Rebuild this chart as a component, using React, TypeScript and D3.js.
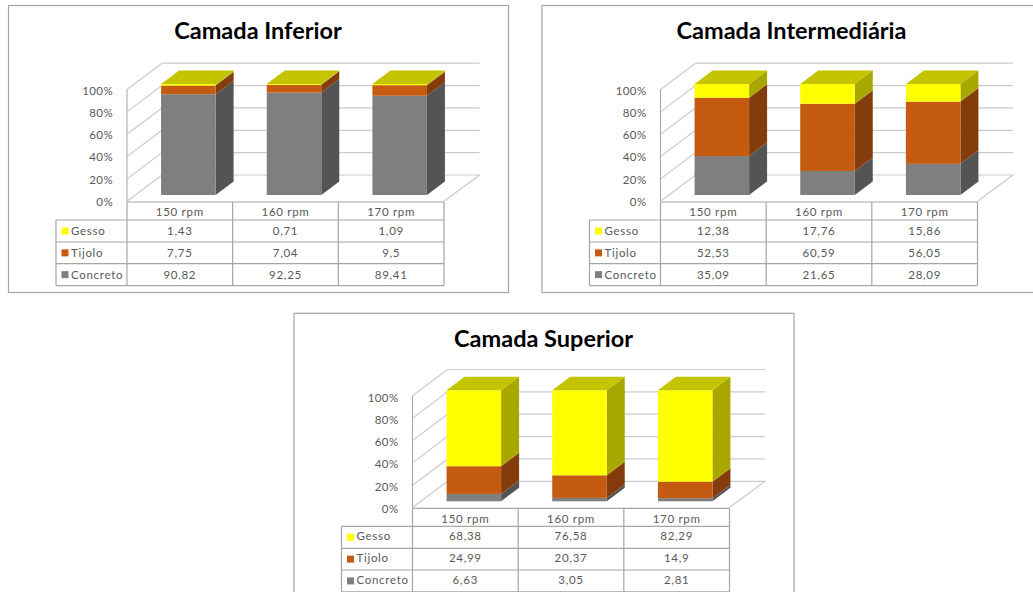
import React from "react";
import * as d3 from "d3";

// Stacked 3D column charts with an attached data table, one per layer.
const categories = ["150 rpm", "160 rpm", "170 rpm"];
const seriesNames = ["Concreto", "Tijolo", "Gesso"];
const percentTicks = [0, 20, 40, 60, 80, 100];

const inferiorConcreto = [90.82, 92.25, 89.41];
const inferiorTijolo = [7.75, 7.04, 9.5];
const inferiorGesso = [1.43, 0.71, 1.09];

const intermediariaConcreto = [35.09, 21.65, 28.09];
const intermediariaTijolo = [52.53, 60.59, 56.05];
const intermediariaGesso = [12.38, 17.76, 15.86];

const superiorConcreto = [6.63, 3.05, 2.81];
const superiorTijolo = [24.99, 20.37, 14.9];
const superiorGesso = [68.38, 76.58, 82.29];

const FRONT: Record<string, string> = { Concreto: "#7f7f7f", Tijolo: "#c55a11", Gesso: "#ffff00" };
const SIDE: Record<string, string> = { Concreto: "#545454", Tijolo: "#843c0c", Gesso: "#a8a800" };
const TOP: Record<string, string> = { Concreto: "#666666", Tijolo: "#9c4a0e", Gesso: "#c4c400" };

const FONT = "Lato, 'Open Sans', sans-serif";
const GRID = "#cccccc";
const BORDER = "#a6a6a6";
const TEXT = "#595959";

// Shared layout of one panel, in the panel's own coordinates.
const DEPTH_X = 18;
const DEPTH_Y = 13.5;
const WALL_X = 127;
const BACK_X = 162;
const BACK_RIGHT = 479.5;
const TABLE_RIGHT = 444;
const LEGEND_X = 56;
const rowEdges = [202, 220, 242, 263.7, 285.6];

const yBar = d3.scaleLinear().domain([0, 100]).range([195, 84]);
const yBack = d3.scaleLinear().domain([0, 100]).range([175, 63.2]);
const yWall = d3.scaleLinear().domain([0, 100]).range([201.3, 89.5]);
const yLabel = d3.scaleLinear().domain([0, 100]).range([201.8, 90.8]);
const xBar = d3.scaleBand<string>().domain(categories).range([135.5, 452.5]).paddingInner(0.484).paddingOuter(0.242);
const xCol = d3.scaleBand<string>().domain(categories).range([WALL_X, TABLE_RIGHT]);

const decimal = (v: number) => String(v).replace(".", ",");

type PanelProps = {
  title: string;
  dx: number;
  dy: number;
  frameTop: number;
  titleDy: number;
  headerDy: number;
  rowDy: number;
  tickDy: number;
  concreto: number[];
  tijolo: number[];
  gesso: number[];
};

function Panel({ title, dx, dy, frameTop, titleDy, headerDy, rowDy, tickDy, concreto, tijolo, gesso }: PanelProps) {
  const values: Record<string, number[]> = { Concreto: concreto, Tijolo: tijolo, Gesso: gesso };
  const rows = categories.map((c, i) => ({
    category: c,
    Concreto: concreto[i],
    Tijolo: tijolo[i],
    Gesso: gesso[i],
  }));
  const layers = d3.stack<any>().keys(seriesNames)(rows);
  const bw = xBar.bandwidth();
  const tableRows = [...seriesNames].reverse();

  return (
    <g transform={`translate(${dx},${dy})`}>
      <rect x={8.5} y={frameTop} width={500} height={287} fill="#fff" stroke={BORDER} strokeWidth={1.2} />
      <text x={258} y={38.5 + titleDy} textAnchor="middle" fontFamily={FONT} fontWeight={700} fontSize={23.5} fill="#000">
        {title}
      </text>

      {/* walls and floor */}
      {percentTicks.map((t) => (
        <g key={t} stroke={GRID} strokeWidth={1.2} fill="none">
          <line x1={WALL_X} y1={yWall(t)} x2={BACK_X} y2={yBack(t)} />
          {t > 0 && <line x1={BACK_X} y1={yBack(t)} x2={BACK_RIGHT} y2={yBack(t)} />}
        </g>
      ))}
      <path
        d={`M${BACK_X},${yBack(0)}H${BACK_RIGHT}L${TABLE_RIGHT},${yWall(0)}`}
        fill="none"
        stroke={GRID}
        strokeWidth={1.2}
      />
      <line x1={WALL_X} y1={yWall(0)} x2={WALL_X} y2={yWall(100)} stroke={BORDER} strokeWidth={1} />
      {percentTicks.map((t) => (
        <text key={t} x={113} y={yLabel(t) + tickDy} dy="0.35em" textAnchor="end" fontFamily={FONT} fontSize={11.5} letterSpacing={0.4} fill={TEXT}>
          {t}%
        </text>
      ))}

      {/* stacked columns */}
      {layers.map((layer) =>
        layer.map((d, i) => {
          const x = xBar(categories[i])!;
          const y0 = yBar(d[0]);
          const y1 = yBar(d[1]);
          return (
            <g key={`${layer.key}-${i}`}>
              <path
                d={`M${x + bw},${y0}L${x + bw + DEPTH_X},${y0 - DEPTH_Y}V${y1 - DEPTH_Y}L${x + bw},${y1}Z`}
                fill={SIDE[layer.key]}
              />
              <rect x={x} y={y1} width={bw} height={y0 - y1} fill={FRONT[layer.key]} />
            </g>
          );
        })
      )}
      {categories.map((c) => {
        const x = xBar(c)!;
        const y = yBar(100);
        return (
          <path
            key={c}
            d={`M${x},${y}L${x + DEPTH_X},${y - DEPTH_Y}H${x + bw + DEPTH_X}L${x + bw},${y}Z`}
            fill={TOP.Gesso}
          />
        );
      })}

      {/* data table */}
      <g stroke={BORDER} strokeWidth={1.2} fill="none">
        <line x1={WALL_X} y1={rowEdges[0]} x2={TABLE_RIGHT} y2={rowEdges[0]} />
        {rowEdges.slice(1).map((y) => (
          <line key={y} x1={LEGEND_X} y1={y} x2={TABLE_RIGHT} y2={y} />
        ))}
        <line x1={LEGEND_X} y1={rowEdges[1]} x2={LEGEND_X} y2={rowEdges[4]} />
        <line x1={WALL_X} y1={rowEdges[0]} x2={WALL_X} y2={rowEdges[4]} />
        {categories.map((c) => {
          const x = xCol(c)! + xCol.bandwidth();
          return <line key={c} x1={x} y1={rowEdges[0]} x2={x} y2={rowEdges[4]} />;
        })}
      </g>
      <g fontFamily={FONT} fontSize={11.5} letterSpacing={0.7} fill={TEXT}>
        {categories.map((c) => (
          <text key={c} x={xCol(c)! + xCol.bandwidth() / 2} y={(rowEdges[0] + rowEdges[1]) / 2 + headerDy} dy="0.35em" textAnchor="middle">
            {c}
          </text>
        ))}
        {tableRows.map((name, r) => {
          const cy = (rowEdges[r + 1] + rowEdges[r + 2]) / 2;
          return (
            <g key={name}>
              <rect x={61.5} y={cy - 3.5} width={7} height={7} fill={FRONT[name]} />
              <text x={71} y={cy + rowDy} dy="0.35em">
                {name}
              </text>
              {categories.map((c, i) => (
                <text key={c} x={xCol(c)! + xCol.bandwidth() / 2} y={cy + rowDy} dy="0.35em" textAnchor="middle">
                  {decimal(values[name][i])}
                </text>
              ))}
            </g>
          );
        })}
      </g>
    </g>
  );
}

export default function App() {
  return (
    <svg
      width={1033}
      height={592}
      viewBox="0 0 1033 592"
      style={{ position: "fixed", left: 0, top: 0, display: "block", background: "#fff" }}
    >
      <Panel title="Camada Inferior" dx={0} dy={0} frameTop={5.5} titleDy={0} headerDy={1} rowDy={0} tickDy={0} concreto={inferiorConcreto} tijolo={inferiorTijolo} gesso={inferiorGesso} />
      <Panel title="Camada Intermediária" dx={533.5} dy={0} frameTop={5.5} titleDy={0} headerDy={1} rowDy={0} tickDy={0} concreto={intermediariaConcreto} tijolo={intermediariaTijolo} gesso={intermediariaGesso} />
      <Panel title="Camada Superior" dx={285.5} dy={306.3} frameTop={7} titleDy={2} headerDy={2} rowDy={-1} tickDy={0.7} concreto={superiorConcreto} tijolo={superiorTijolo} gesso={superiorGesso} />
    </svg>
  );
}
